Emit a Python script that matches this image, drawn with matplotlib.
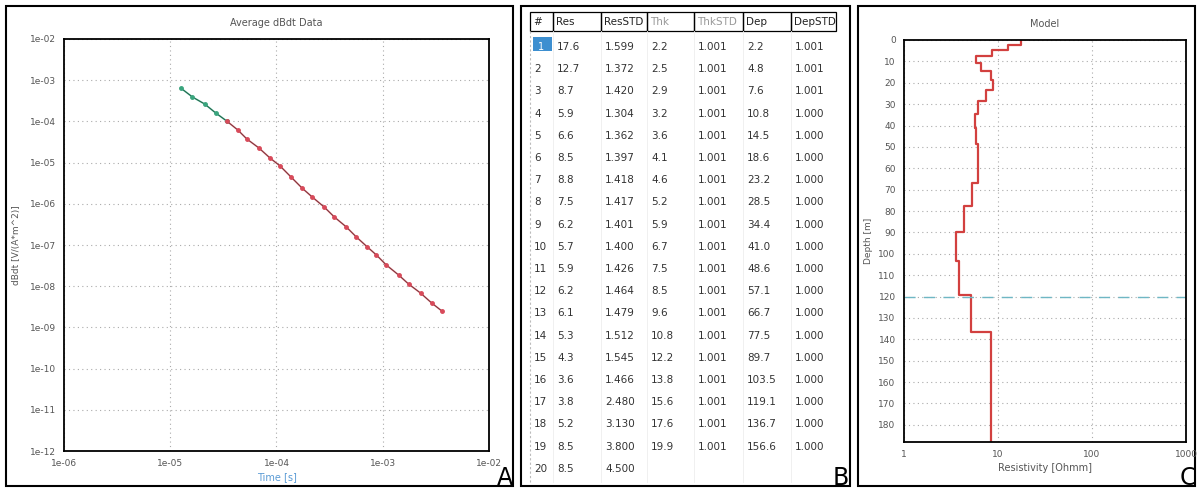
import numpy as np
import matplotlib.pyplot as plt
from matplotlib.patches import Rectangle
from matplotlib.ticker import FixedLocator, FuncFormatter, NullLocator

# --- panel A: averaged dB/dt sounding ---
time_lm = [1.25e-5, 1.62e-5, 2.11e-5, 2.68e-5, 3.40e-5]
dbdt_lm = [6.5e-4, 3.9e-4, 2.64e-4, 1.6e-4, 1.02e-4]
time_hm = [3.40e-5, 4.32e-5, 5.26e-5, 6.84e-5, 8.69e-5, 1.08e-4, 1.37e-4, 1.74e-4,
           2.17e-4, 2.81e-4, 3.50e-4, 4.54e-4, 5.65e-4, 7.18e-4, 8.73e-4, 1.08e-3,
           1.41e-3, 1.75e-3, 2.27e-3, 2.89e-3, 3.60e-3]
dbdt_hm = [1.02e-4, 6.2e-5, 3.74e-5, 2.26e-5, 1.29e-5, 8.3e-6, 4.47e-6, 2.41e-6,
           1.46e-6, 8.36e-7, 4.79e-7, 2.74e-7, 1.56e-7, 8.9e-8, 5.7e-8, 3.27e-8,
           1.87e-8, 1.13e-8, 6.8e-9, 3.9e-9, 2.5e-9]

# --- panel B / C: inversion model ---
layer = list(range(1, 21))
res = [17.6, 12.7, 8.7, 5.9, 6.6, 8.5, 8.8, 7.5, 6.2, 5.7,
       5.9, 6.2, 6.1, 5.3, 4.3, 3.6, 3.8, 5.2, 8.5, 8.5]
res_std = [1.599, 1.372, 1.420, 1.304, 1.362, 1.397, 1.418, 1.417, 1.401, 1.400,
           1.426, 1.464, 1.479, 1.512, 1.545, 1.466, 2.480, 3.130, 3.800, 4.500]
thk = [2.2, 2.5, 2.9, 3.2, 3.6, 4.1, 4.6, 5.2, 5.9, 6.7,
       7.5, 8.5, 9.6, 10.8, 12.2, 13.8, 15.6, 17.6, 19.9]
thk_std = [1.001] * 19
dep = [2.2, 4.8, 7.6, 10.8, 14.5, 18.6, 23.2, 28.5, 34.4, 41.0,
       48.6, 57.1, 66.7, 77.5, 89.7, 103.5, 119.1, 136.7, 156.6]
dep_std = [1.001, 1.001, 1.001] + [1.000] * 16
doi = 120.0
depth_max = 188.0

grey = '#555555'
plt.rcParams['font.family'] = 'DejaVu Sans'

fig = plt.figure(figsize=(11.98, 4.88), dpi=100)

# overlay in pixel coords for frames + table
ov = fig.add_axes([0, 0, 1, 1], zorder=-1)
ov.set_xlim(0, 1198)
ov.set_ylim(488, 0)
ov.axis('off')

for x0, x1 in [(6, 513), (521, 850), (858, 1195)]:
    ov.add_patch(Rectangle((x0, 6), x1 - x0, 480, fill=False, ec='black', lw=1.5))

# ---------------- panel A ----------------
ax = fig.add_axes([0.0534, 0.0758, 0.3548, 0.8443])
ax.loglog(time_lm, dbdt_lm, '-', color='#4fb892', lw=1.2)
ax.loglog(time_hm, dbdt_hm, '-', color='#e0707a', lw=1.2)
ax.loglog(time_lm + time_hm[1:], dbdt_lm + dbdt_hm[1:], '-', color='black', lw=0.5, alpha=0.6)
ax.plot(time_lm, dbdt_lm, 'o', color='#3aa57e', ms=2.5)
ax.plot(time_hm, dbdt_hm, 'o', color='#d84a5a', ms=2.5)
ax.set_xlim(1e-6, 1e-2)
ax.set_ylim(1e-12, 1e-2)
ax.xaxis.set_major_locator(FixedLocator([1e-6, 1e-5, 1e-4, 1e-3, 1e-2]))
ax.yaxis.set_major_locator(FixedLocator([10.0 ** k for k in range(-12, -1)]))
ax.xaxis.set_minor_locator(NullLocator())
ax.yaxis.set_minor_locator(NullLocator())
fmt = FuncFormatter(lambda v, p: f"{v:.0e}")
ax.xaxis.set_major_formatter(fmt)
ax.yaxis.set_major_formatter(fmt)
ax.grid(True, ls=(0, (1, 3)), color='#aaaaaa', lw=0.8)
ax.tick_params(labelsize=6.5, colors=grey, length=0, pad=6)
ax.set_title('Average dBdt Data', fontsize=7, color=grey, pad=9)
ax.set_xlabel('Time [s]', fontsize=7, color='#5a9bd5', labelpad=3)
ax.set_ylabel('dBdt [V/(A*m^2)]', fontsize=6.5, color=grey, labelpad=6)
for s in ax.spines.values():
    s.set_color('black')
    s.set_linewidth(1.3)

# ---------------- panel B: table ----------------
col_x = [530, 553, 601, 647, 694, 743, 791, 836]
headers = ['#', 'Res', 'ResSTD', 'Thk', 'ThkSTD', 'Dep', 'DepSTD']
for i, h in enumerate(headers):
    ov.add_patch(Rectangle((col_x[i], 12), col_x[i + 1] - col_x[i], 19,
                           fill=False, ec='black', lw=0.9))
    ov.text(col_x[i] + 3, 22, h, fontsize=7.5, va='center', ha='left',
            color='#999999' if h.startswith('Thk') else '#222222')
for xv in col_x[1:-1]:
    ov.plot([xv, xv], [31, 482], color='#eeeeee', lw=0.6)
ov.plot([530, 530], [31, 482], color='#bbbbbb', lw=0.8, ls=(0, (2, 2)))
ov.add_patch(Rectangle((533, 37), 19, 14, color='#3d8fd0', lw=0))

row_y0, row_dy = 47, 22.2
for k in range(len(layer)):
    y = row_y0 + k * row_dy
    cells = [str(layer[k]), f"{res[k]:.1f}", f"{res_std[k]:.3f}"]
    if k < len(thk):
        cells += [f"{thk[k]:.1f}", f"{thk_std[k]:.3f}", f"{dep[k]:.1f}", f"{dep_std[k]:.3f}"]
    for i, c in enumerate(cells):
        if k == 0 and i == 0:
            ov.text(col_x[0] + 8, y, c, fontsize=7, va='center', color='white')
            continue
        ov.text(col_x[i] + 4, y, c, fontsize=7.5, va='center', ha='left', color='#333333')

# ---------------- panel C ----------------
axc = fig.add_axes([0.7546, 0.0943, 0.2354, 0.8238])
tops = [0.0] + dep
bots = dep + [depth_max]
xs, ys = [], []
for r, t, b in zip(res, tops, bots):
    xs += [r, r]
    ys += [t, b]
axc.semilogx(xs, ys, color='#d2403f', lw=1.6)
axc.axhline(doi, color='#6fb7c4', lw=1.0, ls=(0, (8, 6)))
axc.set_xlim(1, 1000)
axc.set_ylim(depth_max, 0)
axc.xaxis.set_major_locator(FixedLocator([1, 10, 100, 1000]))
axc.xaxis.set_minor_locator(NullLocator())
axc.xaxis.set_major_formatter(FuncFormatter(lambda v, p: f"{v:g}"))
axc.set_yticks(np.arange(0, 181, 10))
axc.grid(True, ls=(0, (1, 3)), color='#aaaaaa', lw=0.8)
axc.tick_params(labelsize=6.5, colors=grey, length=0, pad=6)
axc.set_title('Model', fontsize=7, color=grey, pad=9)
axc.set_xlabel('Resistivity [Ohmm]', fontsize=7, color=grey, labelpad=3)
axc.set_ylabel('Depth [m]', fontsize=6.5, color=grey, labelpad=4)
for s in axc.spines.values():
    s.set_color('black')
    s.set_linewidth(1.3)

# panel letters
for x, lab in [(505, 'A'), (841, 'B'), (1188, 'C')]:
    ov.text(x, 478, lab, fontsize=17, ha='center', va='center', color='black')

fig.savefig('out.png', dpi=100)
